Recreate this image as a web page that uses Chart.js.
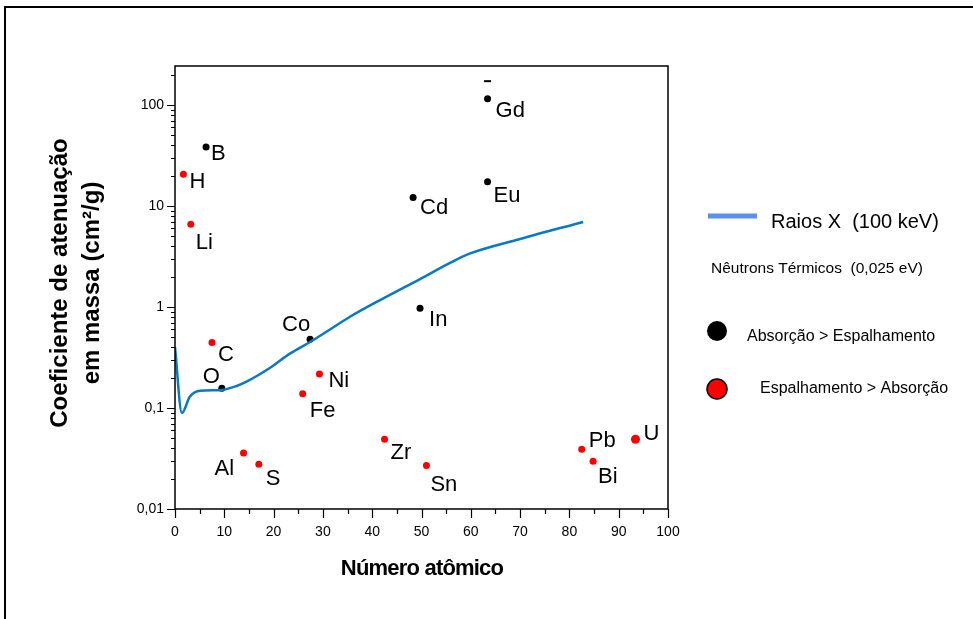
<!DOCTYPE html>
<html>
<head>
<meta charset="utf-8">
<script src="https://cdn.jsdelivr.net/npm/chart.js@4/dist/chart.umd.min.js"></script>
<style>
  html, body { margin: 0; padding: 0; background: #fff; }
  #wrap { width: 973px; height: 619px; position: relative; }
</style>
</head>
<body>
<div id="wrap"><canvas id="grafico"></canvas></div>
<script>
// Raios X (100 keV) - coeficiente de atenuacao em massa
const xrayZ = [0, 1.4, 3.0, 5.1, 9.1, 12.5, 14.5, 19.3, 23.3, 27.4, 30, 35.5, 41.6, 49.7, 55.8, 59.6, 70, 82.8];
const xrayValues = [0.40, 0.089, 0.129, 0.148, 0.150, 0.165, 0.182, 0.25, 0.345, 0.45, 0.54, 0.80, 1.17, 1.89, 2.73, 3.35, 4.71, 6.95];

// Neutrons termicos: absorcao > espalhamento
const absElements = ['B', 'O', 'Co', 'Cd', 'In', 'Eu', 'Gd'];
const absZ = [6.3, 9.5, 27.4, 48.3, 49.7, 63.4, 63.4];
const absValues = [38.4, 0.157, 0.479, 12.1, 0.97, 17.4, 115];

// Neutrons termicos: espalhamento > absorcao
const scatElements = ['H', 'Li', 'C', 'Al', 'S', 'Fe', 'Ni', 'Zr', 'Sn', 'Pb', 'Bi', 'U'];
const scatZ = [1.7, 3.2, 7.5, 13.9, 17.0, 25.9, 29.3, 42.5, 51.0, 82.5, 84.8, 93.4];
const scatValues = [20.6, 6.6, 0.444, 0.0358, 0.0277, 0.138, 0.217, 0.049, 0.0269, 0.039, 0.0297, 0.049];

// marca extra acima do Gd
const gdMarkZ = [63.4];
const gdMarkValues = [172];

const xTickValues = [0, 10, 20, 30, 40, 50, 60, 70, 80, 90, 100];
const yTickValues = [0.01, 0.1, 1, 10, 100];
const yTickLabels = ['0,01', '0,1', '1', '10', '100'];

// deslocamento do rotulo (esquerda/linha de base) em relacao ao ponto
const labelOffsets = {
  B: [5, 13], H: [6, 14], Li: [5, 25], C: [6, 18], O: [-19, -5], Co: [-28, -8],
  Ni: [9, 13], Fe: [7, 23], Al: [-29, 22], S: [7, 21], Zr: [6, 20], Sn: [4, 25],
  In: [9, 18], Pb: [7, -2], Bi: [5, 22], U: [8, 1], Cd: [7, 16], Eu: [6, 20], Gd: [8, 18]
};

const FONT = '"Liberation Sans", Arial, sans-serif';
Chart.defaults.font.family = FONT;
Chart.defaults.color = '#000';

const toPoints = (xs, ys) => xs.map((x, i) => ({ x: x, y: ys[i] }));

const decor = {
  id: 'decor',
  beforeDraw(chart) {
    const ctx = chart.ctx;
    ctx.save();
    ctx.strokeStyle = '#000';
    ctx.lineWidth = 2;
    ctx.beginPath();
    ctx.moveTo(5, 619);
    ctx.lineTo(5, 7);
    ctx.lineTo(973, 7);
    ctx.stroke();
    ctx.restore();
  },
  afterDraw(chart) {
    const ctx = chart.ctx;
    const a = chart.chartArea;
    const xs = chart.scales.x, ys = chart.scales.y;
    ctx.save();

    // moldura do grafico
    ctx.strokeStyle = '#000';
    ctx.lineWidth = 1.5;
    ctx.strokeRect(a.left, a.top, a.right - a.left, a.bottom - a.top);

    // marcas do eixo y (log)
    ctx.lineWidth = 1.2;
    ctx.beginPath();
    for (let d = -2; d <= 2; d++) {
      for (let m = 1; m <= 9; m++) {
        const v = m * Math.pow(10, d);
        if (v > ys.max) continue;
        const py = Math.round(ys.getPixelForValue(v)) + 0.5;
        const len = m === 1 ? 8 : 4;
        ctx.moveTo(a.left - len, py);
        ctx.lineTo(a.left, py);
      }
    }
    // marcas do eixo x
    for (let z = 0; z <= 100; z += 5) {
      const px = Math.round(xs.getPixelForValue(z)) + 0.5;
      const len = z % 10 === 0 ? 9 : 5;
      ctx.moveTo(px, a.bottom);
      ctx.lineTo(px, a.bottom + len);
    }
    ctx.stroke();

    // rotulos dos elementos
    ctx.fillStyle = '#000';
    ctx.font = '22px ' + FONT;
    ctx.textBaseline = 'alphabetic';
    ctx.textAlign = 'left';
    const labelSet = (dsIndex, names) => {
      const meta = chart.getDatasetMeta(dsIndex);
      meta.data.forEach((pt, i) => {
        const off = labelOffsets[names[i]] || [6, 16];
        ctx.fillText(names[i], pt.x + off[0], pt.y + off[1]);
      });
    };
    labelSet(1, absElements);
    labelSet(2, scatElements);

    // titulo eixo x
    ctx.font = 'bold 22px ' + FONT;
    ctx.textAlign = 'center';
    ctx.letterSpacing = '-0.8px';
    ctx.fillText('Número atômico', 422, 575);
    ctx.letterSpacing = '0px';

    // titulo eixo y
    ctx.save();
    ctx.translate(0, 283);
    ctx.rotate(-Math.PI / 2);
    ctx.font = 'bold 24px ' + FONT;
    ctx.textAlign = 'center';
    ctx.fillText('Coeficiente de atenuação', 0, 67);
    ctx.fillText('em massa (cm²/g)', 0, 99);
    ctx.restore();

    // legenda
    ctx.strokeStyle = '#5a8ff0';
    ctx.lineWidth = 5;
    ctx.beginPath();
    ctx.moveTo(708, 216);
    ctx.lineTo(757, 216);
    ctx.stroke();
    ctx.textAlign = 'left';
    ctx.fillStyle = '#000';
    ctx.font = '20px ' + FONT;
    ctx.fillText('Raios X  (100 keV)', 771, 228);
    ctx.font = '15.5px ' + FONT;
    ctx.fillText('Nêutrons Térmicos  (0,025 eV)', 711, 273);
    ctx.font = '16px ' + FONT;
    ctx.fillText('Absorção > Espalhamento', 747, 341);
    ctx.fillText('Espalhamento > Absorção', 760, 393);

    ctx.beginPath();
    ctx.arc(717, 331, 10, 0, Math.PI * 2);
    ctx.fillStyle = '#000';
    ctx.fill();
    ctx.beginPath();
    ctx.arc(717, 389, 10, 0, Math.PI * 2);
    ctx.fillStyle = '#ff0000';
    ctx.fill();
    ctx.lineWidth = 1.5;
    ctx.strokeStyle = '#000';
    ctx.stroke();

    ctx.restore();
  }
};

const config = {
  type: 'scatter',
  data: {
    datasets: [
      {
        type: 'line',
        label: 'Raios X (100 keV)',
        data: toPoints(xrayZ, xrayValues),
        borderColor: '#0a78c8',
        borderWidth: 2.5,
        pointRadius: 0,
        cubicInterpolationMode: 'monotone',
        fill: false
      },
      {
        label: 'Absorção > Espalhamento',
        data: toPoints(absZ, absValues),
        backgroundColor: '#000',
        borderColor: '#000',
        pointRadius: 3.5,
        borderWidth: 0
      },
      {
        label: 'Espalhamento > Absorção',
        data: toPoints(scatZ, scatValues),
        backgroundColor: '#ff0000',
        borderColor: '#ff0000',
        pointRadius: ctx => scatElements[ctx.dataIndex] === 'U' ? 4.5 : 3.5,
        borderWidth: 0
      },
      {
        label: 'Gd marca',
        data: toPoints(gdMarkZ, gdMarkValues),
        pointStyle: 'line',
        borderColor: '#000',
        borderWidth: 2,
        pointRadius: 3.5
      }
    ]
  },
  options: {
    responsive: true,
    maintainAspectRatio: false,
    animation: false,
    layout: { padding: { top: 66, right: 305, bottom: 0, left: 0 } },
    plugins: { legend: { display: false }, tooltip: { enabled: false } },
    scales: {
      x: {
        type: 'linear',
        min: 0,
        max: 100,
        afterFit: axis => { axis.height = 110; },
        afterBuildTicks: axis => { axis.ticks = xTickValues.map(v => ({ value: v })); },
        grid: { display: false, drawTicks: true, tickLength: 9 },
        border: { display: false },
        ticks: { font: { size: 14 }, padding: 6, maxRotation: 0, autoSkip: false, color: '#000' }
      },
      y: {
        type: 'logarithmic',
        min: 0.01,
        max: 243,
        afterFit: axis => { axis.width = 175; },
        afterBuildTicks: axis => { axis.ticks = yTickValues.map(v => ({ value: v, major: true })); },
        grid: { display: false, drawTicks: true, tickLength: 8 },
        border: { display: false },
        ticks: {
          font: { size: 14 },
          padding: 3,
          autoSkip: false,
          color: '#000',
          callback: v => {
            const i = yTickValues.indexOf(v);
            return i >= 0 ? yTickLabels[i] : '';
          }
        }
      }
    }
  },
  plugins: [decor]
};

const ctx = document.getElementById('grafico').getContext('2d');
if (ctx !== null) {
  const grafico = new Chart(ctx, config);
}
</script>
</body>
</html>
